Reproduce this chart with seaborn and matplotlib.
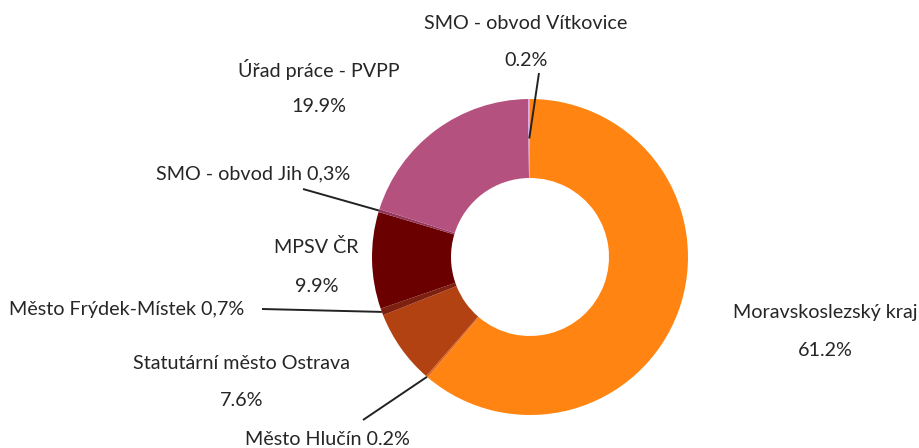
import matplotlib
matplotlib.use("Agg")
import matplotlib.pyplot as plt
import numpy as np
import seaborn as sns

# slices, clockwise from 12 o'clock
names = [
    "Moravskoslezský kraj",
    "Město Hlučín",
    "Statutární město Ostrava",
    "Město Frýdek-Místek",
    "MPSV ČR",
    "SMO - obvod Jih",
    "Úřad práce - PVPP",
    "SMO - obvod Vítkovice",
]
shares = [61.2, 0.2, 7.6, 0.7, 9.9, 0.3, 19.9, 0.2]
pct_labels = ["61.2%", "0.2%", "7.6%", "0,7%", "9.9%", "0,3%", "19.9%", "0.2%"]
colors = [
    "#ff8412", "#e0661a", "#b34212", "#7e2010",
    "#6a0000", "#95355a", "#b5517e", "#d9a2ec",
]

sns.set_theme(style="white")
plt.rcParams["font.family"] = ["Lato", "DejaVu Sans"]

W, H = 920, 448
CX, CY, R = 530, 257, 158  # donut centre / radius in pixels


def px(x, y):
    return (x - CX) / R, (CY - y) / R


fig = plt.figure(figsize=(W / 100, H / 100), dpi=100)
ax = fig.add_axes([0, 0, 1, 1])

wedges, _ = ax.pie(
    shares, colors=sns.color_palette(colors), startangle=90,
    counterclock=False, radius=1.0,
    wedgeprops=dict(width=0.5, linewidth=0),
)
ax.set_aspect("auto")
ax.set_xlim(-CX / R, (W - CX) / R)
ax.set_ylim(-(H - CY) / R, CY / R)
ax.axis("off")

TXT = "#262626"
FS = 14.2

# (style, text pos in px, second line pos, leader start in px, leader radius)
layout = {
    0: ("stack", (825, 312), (825, 350), None, None),
    1: ("inline", (245, 439), None, (363, 420), 1.0),
    2: ("stack", (242, 363), (242, 400), None, None),
    3: ("inline", (9, 309), None, (262, 309), 1.0),
    4: ("stack", (316, 247), (317, 287), None, None),
    5: ("inline", (156, 174), None, (303, 189), 1.0),
    6: ("stack", (319, 70), (319, 107), None, None),
    7: ("stack", (526, 24), (526, 61), (539, 73), 0.75),
}

for i, (style, p1, p2, lstart, lr) in layout.items():
    if style == "stack":
        ax.text(*px(*p1), names[i], ha="center", va="center",
                fontsize=FS, color=TXT)
        ax.text(*px(*p2), pct_labels[i], ha="center", va="center",
                fontsize=FS, color=TXT)
    else:
        ax.text(*px(*p1), f"{names[i]} {pct_labels[i]}", ha="left",
                va="center", fontsize=FS, color=TXT)
    if lstart is not None:
        w = wedges[i]
        mid = np.deg2rad((w.theta1 + w.theta2) / 2)
        end = (lr * np.cos(mid), lr * np.sin(mid))
        start = px(*lstart)
        ax.plot([start[0], end[0]], [start[1], end[1]],
                color="#222222", lw=1.4, solid_capstyle="butt")

fig.savefig("out.png", dpi=100)
